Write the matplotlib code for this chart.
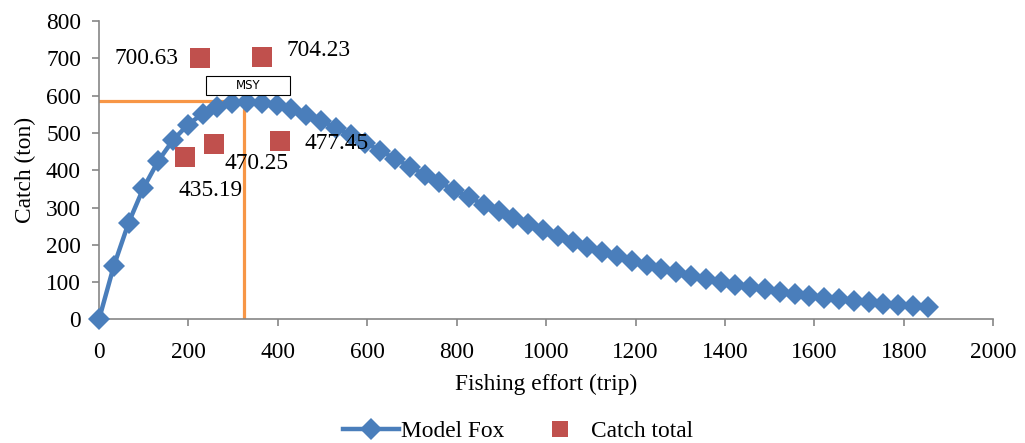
import matplotlib
matplotlib.use("Agg")
import matplotlib.pyplot as plt
from matplotlib.patches import Rectangle

plt.rcParams['font.family'] = ['Liberation Serif', 'DejaVu Serif']

# Fox model curve (effort in trips, catch in tons)
effort = [0.0, 33.1, 66.2, 99.3, 132.4, 165.5, 198.6, 231.7, 264.8, 297.9,
          331.0, 364.1, 397.2, 430.3, 463.4, 496.5, 529.6, 562.7, 595.8, 628.9,
          662.0, 695.1, 728.2, 761.3, 794.4, 827.5, 860.6, 893.7, 926.8, 959.9,
          993.0, 1026.1, 1059.2, 1092.3, 1125.4, 1158.5, 1191.6, 1224.7, 1257.8, 1290.9,
          1324.0, 1357.1, 1390.2, 1423.3, 1456.4, 1489.5, 1522.6, 1555.7, 1588.8, 1621.9,
          1655.0, 1688.1, 1721.2, 1754.3, 1787.4, 1820.5, 1853.6]
fox_catch = [0, 143.2, 259.2, 352.0, 424.7, 480.6, 521.9, 551.2, 570.1, 580.5,
             583.8, 581.3, 574.0, 562.8, 548.6, 532.0, 513.6, 493.9, 473.4, 452.2,
             430.9, 409.5, 388.3, 367.4, 347.0, 327.2, 308.0, 289.5, 271.7, 254.7,
             238.5, 223.1, 208.4, 194.5, 181.4, 169.0, 157.4, 146.4, 136.1, 126.4,
             117.3, 108.9, 100.9, 93.5, 86.6, 80.2, 74.2, 68.6, 63.4, 58.6,
             54.1, 50.0, 46.1, 42.5, 39.2, 36.2, 33.3]

# observed catch totals
obs_effort = [192.6, 225.5, 257.6, 363.5, 404.7]
obs_catch = [435.19, 700.63, 470.25, 704.23, 477.45]

# MSY reference point
e_msy = 325
c_msy = 585

fig = plt.figure(figsize=(10.25, 4.43), dpi=100)
ax = fig.add_axes([0.0966, 0.279, 0.8724, 0.6736])

blue = '#4A7EBB'
red = '#C0504D'
orange = '#F79646'
gray = '#868686'
fs = 16.8

ax.plot([0, e_msy], [c_msy, c_msy], color=orange, lw=2.3, zorder=2)
ax.plot([e_msy, e_msy], [0, c_msy], color=orange, lw=2.3, zorder=2)

ax.plot(effort, fox_catch, color=blue, lw=3.2, marker='D', ms=11,
        mew=0, label='Model Fox', zorder=3, clip_on=False)
ax.plot(obs_effort, obs_catch, ls='none', marker='s', ms=14.2, color=red,
        mew=0, label='Catch total', zorder=4)

# data labels
lbl = dict(fontsize=fs, color='black', zorder=5, textcoords='offset pixels')
ax.annotate('435.19', (obs_effort[0], obs_catch[0]), xytext=(25, -33),
            ha='center', va='center', **lbl)
ax.annotate('700.63', (obs_effort[1], obs_catch[1]), xytext=(-21, 0),
            ha='right', va='center', **lbl)
ax.annotate('470.25', (obs_effort[2], obs_catch[2]), xytext=(42, -20),
            ha='center', va='center', **lbl)
ax.annotate('704.23', (obs_effort[3], obs_catch[3]), xytext=(25, 6),
            ha='left', va='center', **lbl)
ax.annotate('477.45', (obs_effort[4], obs_catch[4]), xytext=(25, -2),
            ha='left', va='center', **lbl)

# MSY label box
ax.add_patch(Rectangle((240, 602), 188, 51, facecolor='white',
                       edgecolor='black', lw=0.8, zorder=5))
ax.text(334, 627, 'MSY', family='DejaVu Sans', fontsize=8.5,
        ha='center', va='center', zorder=6)

ax.set_xlim(0, 2000)
ax.set_ylim(0, 800)
ax.set_xticks(range(0, 2001, 200))
ax.set_yticks(range(0, 801, 100))
for s in ['top', 'right']:
    ax.spines[s].set_visible(False)
for s in ['left', 'bottom']:
    ax.spines[s].set_color(gray)
    ax.spines[s].set_linewidth(1.2)
ax.tick_params(direction='out', length=5, width=1.2, color=gray,
               labelsize=fs)
ax.tick_params(axis='x', pad=11)
ax.tick_params(axis='y', pad=8)

ax.set_xlabel('Fishing effort (trip)', fontsize=fs, labelpad=8)
ax.set_ylabel('Catch (ton)', fontsize=fs, labelpad=7)

leg = fig.legend(*ax.get_legend_handles_labels(), loc='center',
                 bbox_to_anchor=(0.505, 0.027), ncol=2, frameon=False,
                 fontsize=fs, handlelength=2.4, columnspacing=1.2,
                 handletextpad=0.1, borderaxespad=0, borderpad=0)
leg.legend_handles[1].set_markersize(11)

fig.savefig('out.png', dpi=100)
